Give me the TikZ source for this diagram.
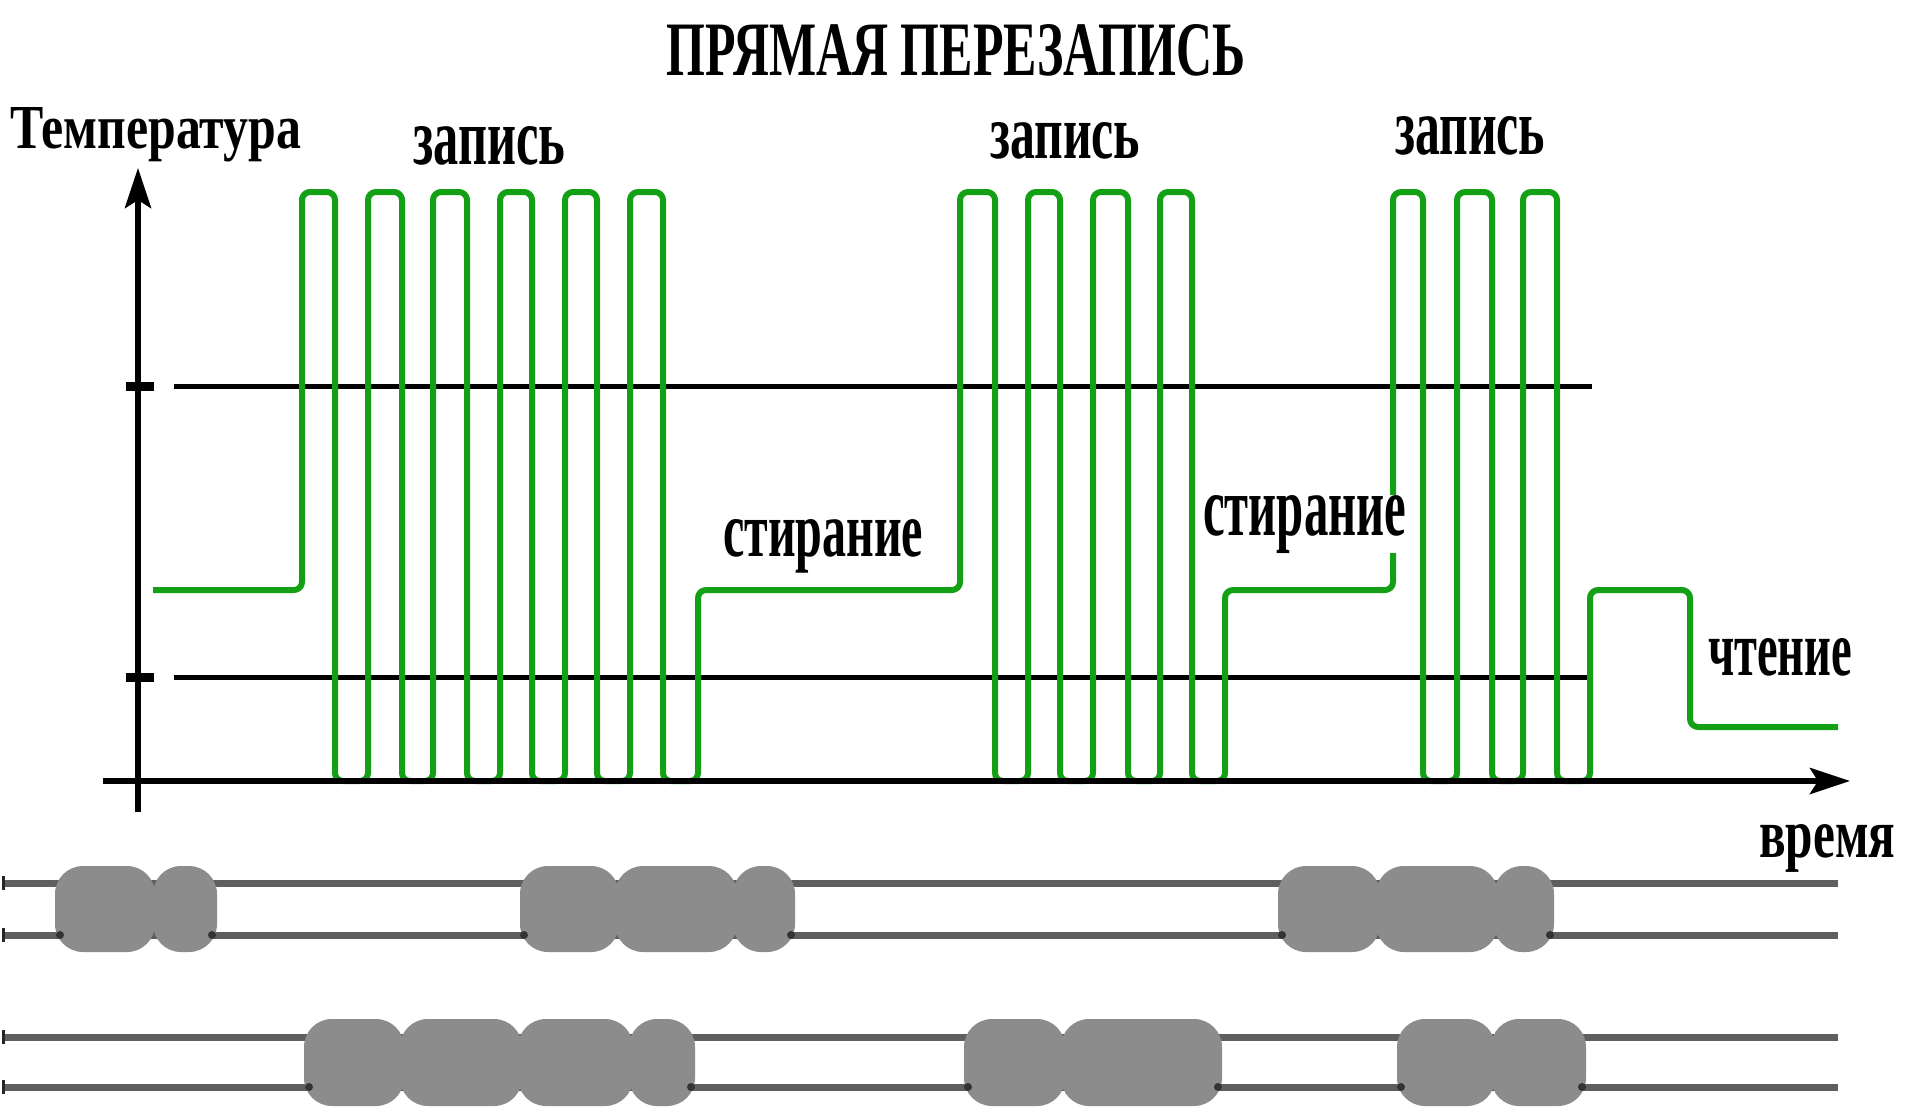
\documentclass[tikz,border=0pt]{standalone}
\usepackage{fontspec}
\setmainfont{Liberation Serif}
\usetikzlibrary{arrows.meta}
\definecolor{trace}{RGB}{20,160,20}
\definecolor{markgray}{RGB}{140,140,140}
\definecolor{trackgray}{RGB}{95,95,95}
% text fitted to a given width and height above the baseline
\newcommand{\fitlabel}[3]{\resizebox{#1}{#2}{\bfseries #3}}

\begin{document}
\begin{tikzpicture}[x=1pt,y=-1pt,
  axis/.style={line width=6pt,-{Stealth[length=40pt,width=26pt,inset=8pt]}},
  level/.style={line width=5pt},
  tickmark/.style={line width=9pt},
  signal/.style={draw=trace,line width=6pt,rounded corners=8pt,line join=round},
  lbl/.style={inner sep=0pt,anchor=base west},
  track/.style={draw=trackgray,line width=7pt},
  lobe/.style={fill=markgray,rounded corners=28pt},
  edgedot/.style={fill=black!80},
  ]
\useasboundingbox (0,0) rectangle (1905,1111);
\fill[white] (0,0) rectangle (1905,1111);

% threshold levels
\draw[tickmark] (126,386) -- (154,386);
\draw[tickmark] (126,677) -- (154,677);
\draw[level] (174,386) -- (1592,386);
\draw[level] (174,677) -- (1590,677);

% temperature profile
\draw[signal] (153,590) -- (302,590)
  -- (302,192) -- (335,192) -- (335,781) -- (368,781)
  -- (368,192) -- (402,192) -- (402,781) -- (433,781)
  -- (433,192) -- (467,192) -- (467,781) -- (500,781)
  -- (500,192) -- (532,192) -- (532,781) -- (565,781)
  -- (565,192) -- (597,192) -- (597,781) -- (630,781)
  -- (630,192) -- (663,192) -- (663,781) -- (698,781)
  -- (698,590) -- (960,590)
  -- (960,192) -- (995,192) -- (995,781) -- (1028,781)
  -- (1028,192) -- (1060,192) -- (1060,781) -- (1093,781)
  -- (1093,192) -- (1128,192) -- (1128,781) -- (1160,781)
  -- (1160,192) -- (1192,192) -- (1192,781) -- (1225,781)
  -- (1225,590) -- (1393,590)
  -- (1393,192) -- (1423,192) -- (1423,781) -- (1457,781)
  -- (1457,192) -- (1492,192) -- (1492,781) -- (1523,781)
  -- (1523,192) -- (1557,192) -- (1557,781) -- (1590,781)
  -- (1590,590) -- (1690,590) -- (1690,727) -- (1838,727);

% axes
\draw[axis] (138,812) -- (138,168);
\draw[axis] (103,781) -- (1850,781);

% labels
\node[lbl] (title) at (666,75) {\fitlabel{579pt}{51pt}{ПРЯМАЯ ПЕРЕЗАПИСЬ}};
\node[lbl] (ylabel) at (10,148) {\fitlabel{291pt}{41pt}{Температура}};
\node[lbl] (write1) at (413,164) {\fitlabel{152pt}{38pt}{запись}};
\node[lbl] (write2) at (990,158) {\fitlabel{150pt}{36pt}{запись}};
\node[lbl] (write3) at (1395,154) {\fitlabel{150pt}{38pt}{запись}};
\node[lbl] (erase1) at (723,556) {\fitlabel{200pt}{37pt}{стирание}};
\node[lbl,fill=white] (erase2) at (1203,535) {\fitlabel{203pt}{40pt}{стирание}};
\node[lbl] (read) at (1708,675) {\fitlabel{144pt}{37pt}{чтение}};
\node[lbl] (xlabel) at (1759,857) {\fitlabel{136pt}{33pt}{время}};

% tracks before and after overwriting
\draw[track] (3,883) -- (1838,883);
\draw[track] (3,935) -- (1838,935);
\draw[track] (3,1037) -- (1838,1037);
\draw[track] (3,1087) -- (1838,1087);
\foreach \yy in {883,935,1037,1087}
  \draw[line width=3pt,black!85] (3,\yy-7) -- (3,\yy+7);

% old marks
\foreach \a/\b in {55/155,153/217, 520/619,615/737,733/795, 1278/1380,1376/1498,1494/1554}
  \fill[lobe] (\a,866) rectangle (\b,952);
% new marks
\foreach \a/\b in {304/404,400/522,518/633,629/695, 964/1065,1061/1222, 1397/1495,1491/1586}
  \fill[lobe] (\a,1019) rectangle (\b,1106);

\foreach \x in {60,212,524,791,1282,1550}
  \fill[edgedot] (\x,935) circle (4);
\foreach \x in {309,691,968,1218,1401,1582}
  \fill[edgedot] (\x,1087) circle (4);
\end{tikzpicture}
\end{document}
